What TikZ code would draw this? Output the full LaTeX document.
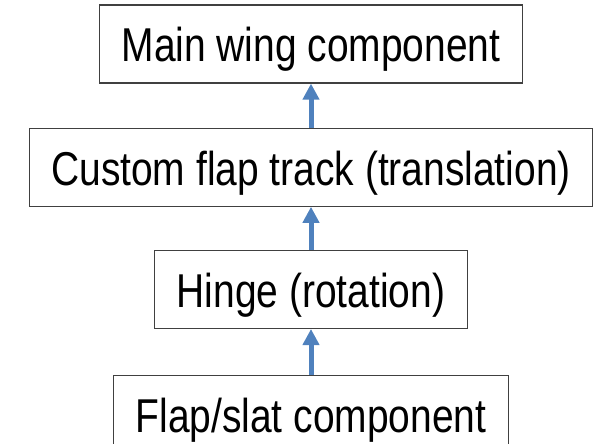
\documentclass[tikz,border=0pt]{standalone}
\usepackage{fontspec}
\usepackage{tikz}
\usetikzlibrary{arrows.meta,positioning}
\newfontfamily\narrowfont{Liberation Sans}[FakeStretch=0.82]
\definecolor{boxline}{RGB}{64,64,64}
\definecolor{linkblue}{RGB}{79,129,189}
\tikzset{
  partbox/.style = {
    rectangle,
    draw=boxline,
    line width=1.2pt,
    align=center,
    font=\narrowfont\fontsize{47.5}{57}\selectfont,
    inner xsep=22pt,
    text height=40pt,
    text depth=4pt,
    minimum height=78pt
  },
  linkarrow/.style = {
    -{Triangle[length=16pt,width=16pt]},
    draw=linkblue,
    line width=5pt
  }
}

\begin{document}
\begin{tikzpicture}[x=1pt,y=1pt,node distance=44pt]
    \useasboundingbox (0,0) rectangle (608,-444);
    \clip (0,0) rectangle (608,-444);
    \node[partbox] (wing) at (311,-44) {Main wing component};
    \node[partbox, below=of wing] (track) {Custom flap track (translation)};
    \node[partbox, below=43pt of track] (hinge) {Hinge (rotation)};
    \node[partbox, below=46pt of hinge] (flap) {Flap/slat component};
    \draw[linkarrow] (track.north) -- (wing.south);
    \draw[linkarrow] (hinge.north) -- (track.south);
    \draw[linkarrow] (flap.north) -- (hinge.south);
  \end{tikzpicture}
\end{document}
